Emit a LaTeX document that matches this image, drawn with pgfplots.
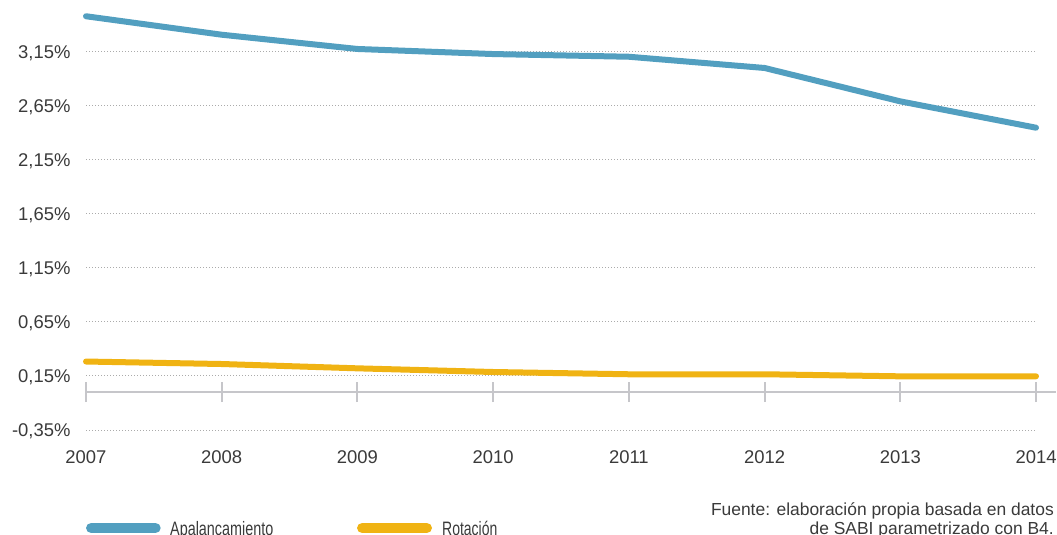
\documentclass[border=0pt]{standalone}
\usepackage{fontspec}
\setmainfont{Liberation Sans}
\usepackage{pgfplots}
\pgfplotsset{compat=1.18}

\definecolor{apal}{HTML}{529FC0}
\definecolor{rota}{HTML}{F0B313}
\definecolor{txt}{HTML}{3A3A3A}
\definecolor{basegray}{HTML}{C6C6CA}
\definecolor{gridgray}{HTML}{ABABAB}

\newcommand{\ticksize}{\fontsize{18.5}{20}\selectfont}
\newcommand{\legsize}{\fontsize{19.5}{21}\selectfont}

\begin{document}
\begin{tikzpicture}
\useasboundingbox (0bp,0bp) rectangle (1057bp,535bp);
\begin{axis}[
  at={(86bp,105bp)}, anchor=south west,
  scale only axis, width=950bp, height=421.2bp,
  xmin=2007, xmax=2014, ymin=-0.35, ymax=3.55,
  clip=false,
  axis line style={draw=none},
  major tick length=0pt,
  xtick={2007,2008,2009,2010,2011,2012,2013,2014},
  xticklabels={2007,2008,2009,2010,2011,2012,2013,2014},
  ytick={-0.35,0.15,0.65,1.15,1.65,2.15,2.65,3.15},
  yticklabels={{-0,35\%},{0,15\%},{0,65\%},{1,15\%},{1,65\%},{2,15\%},{2,65\%},{3,15\%}},
  ymajorgrids,
  grid style={gridgray, line width=1bp, dash pattern=on 1bp off 2bp},
  tick label style={font=\ticksize, text=txt},
  yticklabel style={xshift=-12bp, yshift=-1.2bp},
  xticklabel style={yshift=-17bp},
]
% baseline at zero with year ticks
\draw[basegray, line width=2bp] (axis cs:2007,0) -- (axis cs:2014.147,0);
\pgfplotsinvokeforeach{2007,2008,2009,2010,2011,2012,2013,2014}{
  \draw[basegray, line width=2bp] (axis cs:#1,-0.0926) -- (axis cs:#1,0.0926);
}
\addplot[apal, line width=6bp, line cap=round, line join=round] coordinates {
  (2007,3.481) (2008,3.310) (2009,3.178) (2010,3.131)
  (2011,3.106) (2012,3.002) (2013,2.693) (2014,2.449)
};
\addplot[rota, line width=6bp, line cap=round, line join=round] coordinates {
  (2007,0.284) (2008,0.261) (2009,0.221) (2010,0.187)
  (2011,0.166) (2012,0.166) (2013,0.147) (2014,0.147)
};
\end{axis}
% legend
\draw[apal, line width=10.6bp, line cap=round] (91.3bp,7bp) -- (155.4bp,7bp);
\node[anchor=base west, inner sep=0, text=txt] at (170bp,-0.5bp)
  {\scalebox{0.74}[1]{\legsize Apalancamiento}};
\draw[rota, line width=10.6bp, line cap=round] (362.3bp,7bp) -- (426.7bp,7bp);
\node[anchor=base west, inner sep=0, text=txt] at (442bp,-0.5bp)
  {\scalebox{0.72}[1]{\legsize Rotación}};
% source note
\node[anchor=base east, inner sep=0, text=txt,
      font=\fontsize{17.5}{18.5}\selectfont] at (1054bp,20bp)
  {Fuente: elaboración propia basada en datos};
\node[anchor=base east, inner sep=0, text=txt,
      font=\fontsize{17.5}{18.5}\selectfont] at (1054bp,1bp)
  {de SABI parametrizado con B4.};
\end{tikzpicture}
\end{document}
